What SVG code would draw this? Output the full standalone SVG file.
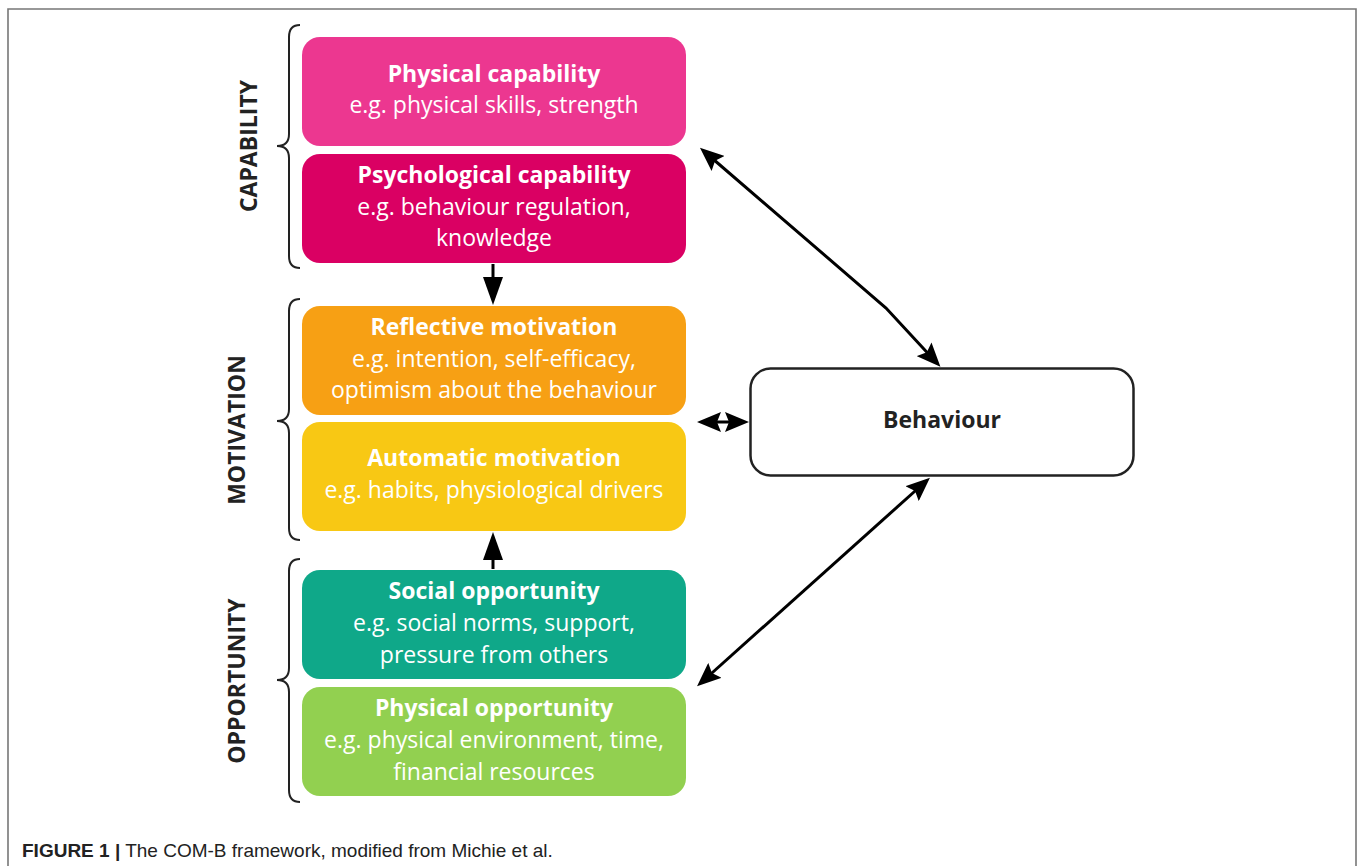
<svg xmlns="http://www.w3.org/2000/svg" width="1358" height="866" viewBox="0 0 1358 866">
<style>
.t{font-family:"Open Sans","Noto Sans",sans-serif;font-size:23px;fill:#fff;text-anchor:middle}
.b{font-weight:bold}
.lab{font-family:"Open Sans","Noto Sans",sans-serif;font-size:23px;font-weight:bold;fill:#222;text-anchor:middle}
.brace{fill:none;stroke:#222;stroke-width:2}
.conn{fill:none;stroke:#000;stroke-width:3}
</style>
<defs>
<marker id="ah" viewBox="0 0 24 20" refX="16" refY="10" markerWidth="24" markerHeight="20" markerUnits="userSpaceOnUse" orient="auto-start-reverse">
<path d="M0,0 L24,10 L0,20 L4,10 z" fill="#000"/>
</marker>
<marker id="av" viewBox="0 0 28 20" refX="20" refY="10" markerWidth="28" markerHeight="20" markerUnits="userSpaceOnUse" orient="auto">
<path d="M0,0 L28,10 L0,20 z" fill="#000"/>
</marker>
</defs>
<rect width="1358" height="866" fill="#fff"/>
<path d="M8,866 L8,9 L1356,9 L1356,866" fill="none" stroke="#777" stroke-width="1.6"/>

<g id="brace-capability">
<path class="brace" d="M300,25 Q289,25 289,37 L289,134 Q289,146 277,146 Q289,146 289,158 L289,256 Q289,268 300,268"/>
<text class="lab" transform="translate(257,146) rotate(-90)">CAPABILITY</text>
</g>
<g id="brace-motivation">
<path class="brace" d="M300,299 Q289,299 289,311 L289,409 Q289,421 277,421 Q289,421 289,433 L289,528 Q289,540 300,540"/>
<text class="lab" transform="translate(245,430) rotate(-90)">MOTIVATION</text>
</g>
<g id="brace-opportunity">
<path class="brace" d="M300,559 Q289,559 289,571 L289,668 Q289,680 277,680 Q289,680 289,692 L289,790 Q289,802 300,802"/>
<text class="lab" transform="translate(245,681) rotate(-90)">OPPORTUNITY</text>
</g>

<g id="physical-capability">
<rect x="302" y="37" width="384" height="109" rx="18" fill="#EC3790"/>
<text class="t b" x="494" y="82">Physical capability</text>
<text class="t" x="494" y="113">e.g. physical skills, strength</text>
</g>
<g id="psychological-capability">
<rect x="302" y="154" width="384" height="109" rx="18" fill="#DA0063"/>
<text class="t b" x="494" y="183">Psychological capability</text>
<text class="t" x="494" y="215">e.g. behaviour regulation,</text>
<text class="t" x="494" y="246">knowledge</text>
</g>
<g id="reflective-motivation">
<rect x="302" y="306" width="384" height="109" rx="18" fill="#F7A014"/>
<text class="t b" x="494" y="335">Reflective motivation</text>
<text class="t" x="494" y="367">e.g. intention, self-efficacy,</text>
<text class="t" x="494" y="398">optimism about the behaviour</text>
</g>
<g id="automatic-motivation">
<rect x="302" y="422" width="384" height="109" rx="18" fill="#F8C814"/>
<text class="t b" x="494" y="466">Automatic motivation</text>
<text class="t" x="494" y="498">e.g. habits, physiological drivers</text>
</g>
<g id="social-opportunity">
<rect x="302" y="570" width="384" height="109" rx="18" fill="#0FA889"/>
<text class="t b" x="494" y="599">Social opportunity</text>
<text class="t" x="494" y="631">e.g. social norms, support,</text>
<text class="t" x="494" y="663">pressure from others</text>
</g>
<g id="physical-opportunity">
<rect x="302" y="687" width="384" height="109" rx="18" fill="#92D050"/>
<text class="t b" x="494" y="716">Physical opportunity</text>
<text class="t" x="494" y="748">e.g. physical environment, time,</text>
<text class="t" x="494" y="780">financial resources</text>
</g>
<g id="behaviour">
<rect x="750.5" y="368.5" width="383" height="107" rx="20" fill="#fff" stroke="#222" stroke-width="2.5"/>
<text class="lab" x="942" y="428">Behaviour</text>
</g>

<g id="connectors">
<path class="conn" d="M706,153 L886,308 L935,361" marker-start="url(#ah)" marker-end="url(#ah)"/>
<path class="conn" d="M705,422 L741,422" marker-start="url(#ah)" marker-end="url(#ah)"/>
<path class="conn" d="M703,681 L924,483" marker-start="url(#ah)" marker-end="url(#ah)"/>
<path class="conn" d="M493,264 L493,297" marker-end="url(#av)"/>
<path class="conn" d="M493,569 L493,540" marker-end="url(#av)"/>
</g>

<g id="caption">
<text x="22" y="857" style="font-family:'Liberation Sans',Arial,sans-serif;font-size:19px;fill:#222"><tspan font-weight="bold">FIGURE 1 |</tspan> The COM-B framework, modified from Michie et al.</text>
</g>
</svg>
